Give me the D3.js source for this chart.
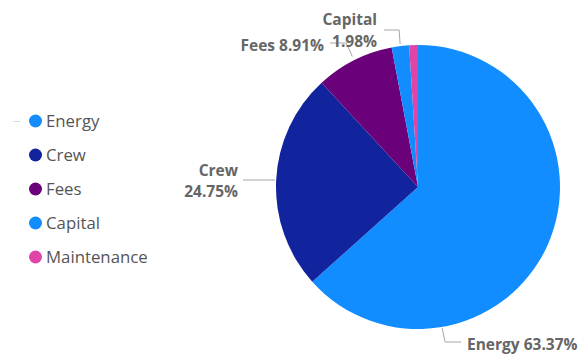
<!DOCTYPE html>
<html>
<head>
<meta charset="utf-8">
<script src="https://cdn.jsdelivr.net/npm/d3@7"></script>
<style>
  html, body { margin: 0; padding: 0; background: #fff; }
  svg { display: block; }
</style>
</head>
<body>
<svg id="chart" width="584" height="355"></svg>
<script>
// Cost breakdown by category
const categories = ["Energy", "Crew", "Fees", "Capital", "Maintenance"];
const shares = [63.37, 24.75, 8.91, 1.98, 0.99];
const colors = ["#118DFF", "#12239E", "#6B007B", "#118DFF", "#E044A7"];

const W = 584, H = 355;
const cx = 418, cy = 187, R = 142;
const font = "'Segoe UI', 'Open Sans', 'Noto Sans', sans-serif";

const svg = d3.select("#chart");
const data = categories.map((c, i) => ({ name: c, value: shares[i], color: colors[i] }));

const pie = d3.pie().value(d => d.value).sort(null);
const arc = d3.arc().innerRadius(0).outerRadius(R);
const arcs = pie(data);

const g = svg.append("g").attr("transform", `translate(${cx},${cy})`);
g.selectAll("path").data(arcs).join("path")
  .attr("d", arc)
  .attr("fill", d => d.data.color);

// Leader lines: start just outside the rim, then bend toward the label
const rim = (a, r) => [Math.sin(a) * r, -Math.cos(a) * r];
const mid = d => (d.startAngle + d.endAngle) / 2;
const deg = Math.PI / 180;

const leaders = {
  Energy:  d => { const p = rim(170.3 * deg, R + 1); return [p, [p[0] + 3, 155], [p[0] + 19, 155]]; },
  Crew:    d => { const p = rim(mid(d), R + 1); return [[p[0], -7], [-175, -7]]; },
  Fees:    d => { const p = rim(mid(d), R + 4); return [p, [p[0] - 6, -144], [-88, -144]]; },
  Capital: d => { const p = rim(mid(d), R + 2); return [p, [p[0] - 1, -157], [-34, -157]]; }
};

const line = d3.line();
arcs.forEach(d => {
  const f = leaders[d.data.name];
  if (!f) return;
  g.append("path")
    .attr("d", line(f(d)))
    .attr("fill", "none")
    .attr("stroke", "#a6a6a6")
    .attr("stroke-width", 1);
});

// Slice labels
const fmt = v => v.toFixed(2) + "%";
const labelStyle = sel => sel
  .attr("font-family", font)
  .attr("font-size", 15.5)
  .attr("font-weight", "bold")
  .attr("fill", "#666");

const byName = Object.fromEntries(arcs.map(d => [d.data.name, d.data]));

labelStyle(svg.append("text").attr("x", 467).attr("y", 350).attr("text-anchor", "start"))
  .text(`Energy ${fmt(byName.Energy.value)}`);

labelStyle(svg.append("text").attr("x", 238).attr("y", 176).attr("text-anchor", "end"))
  .text("Crew");
labelStyle(svg.append("text").attr("x", 238).attr("y", 197).attr("text-anchor", "end"))
  .text(fmt(byName.Crew.value));

labelStyle(svg.append("text").attr("x", 324).attr("y", 51).attr("text-anchor", "end"))
  .text(`Fees ${fmt(byName.Fees.value)}`);

labelStyle(svg.append("text").attr("x", 377).attr("y", 25).attr("text-anchor", "end"))
  .text("Capital");
labelStyle(svg.append("text").attr("x", 377).attr("y", 47).attr("text-anchor", "end"))
  .text(fmt(byName.Capital.value));

// Legend
const legend = svg.append("g");
legend.append("line")
  .attr("x1", 13).attr("x2", 20).attr("y1", 121.5).attr("y2", 121.5)
  .attr("stroke", "#ddd").attr("stroke-width", 1);

const rowY = d3.scalePoint().domain(categories).range([121, 257]);
const items = legend.selectAll("g.item").data(data).join("g")
  .attr("class", "item")
  .attr("transform", d => `translate(0,${rowY(d.name)})`);
items.append("circle").attr("cx", 35.5).attr("cy", 0).attr("r", 6.5).attr("fill", d => d.color);
items.append("text")
  .attr("x", 46).attr("y", 0).attr("dy", "0.35em")
  .attr("font-family", font).attr("font-size", 16.8)
  .attr("fill", "#555")
  .text(d => d.name);
</script>
</body>
</html>
